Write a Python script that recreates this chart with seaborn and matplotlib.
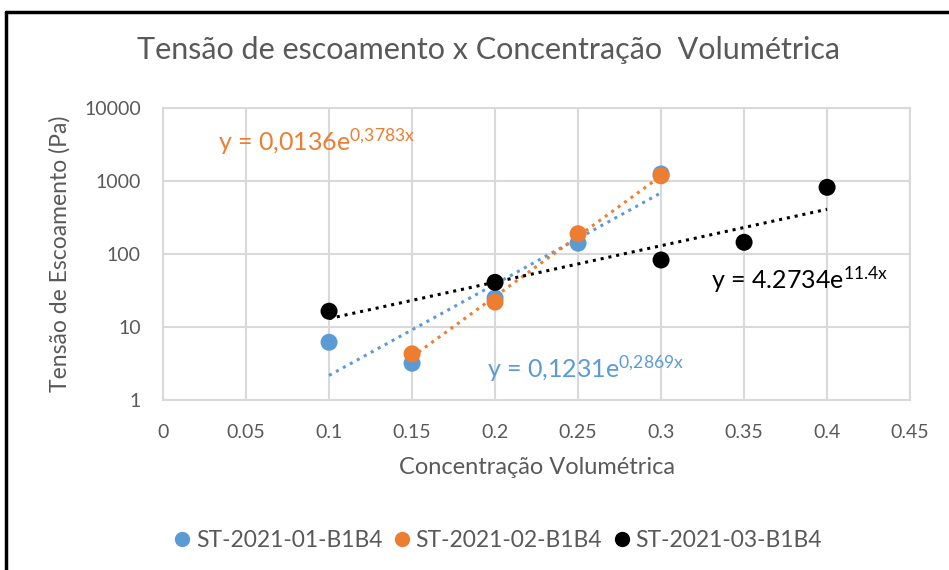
import numpy as np
import pandas as pd
import matplotlib
matplotlib.use("Agg")
import matplotlib.pyplot as plt
from matplotlib.lines import Line2D
from matplotlib.ticker import FixedLocator, FixedFormatter
import seaborn as sns

# data
series = ["ST-2021-01-B1B4", "ST-2021-02-B1B4", "ST-2021-03-B1B4"]
x_01 = [0.10, 0.15, 0.20, 0.25, 0.30]
y_01 = [6.2, 3.2, 25, 141, 1250]
x_02 = [0.15, 0.20, 0.25, 0.30]
y_02 = [4.3, 22, 190, 1180]
x_03 = [0.10, 0.20, 0.30, 0.35, 0.40]
y_03 = [16.5, 41, 83, 145, 820]
equations = ["y = 0,1231e$^{\\mathrm{0{,}2869x}}$",
             "y = 0,0136e$^{\\mathrm{0{,}3783x}}$",
             "y = 4.2734e$^{\\mathrm{11.4x}}$"]
x_ticks = [0, 0.05, 0.1, 0.15, 0.2, 0.25, 0.3, 0.35, 0.4, 0.45]
x_tick_labels = ["0", "0.05", "0.1", "0.15", "0.2", "0.25", "0.3", "0.35", "0.4", "0.45"]
y_ticks = [1, 10, 100, 1000, 10000]
y_tick_labels = ["1", "10", "100", "1000", "10000"]

colors = ["#5B9BD5", "#ED7D31", "#000000"]
grey = "#595959"

sns.set_style("white")
plt.rcParams["font.family"] = ["Lato", "DejaVu Sans"]
plt.rcParams["mathtext.fontset"] = "custom"
plt.rcParams["mathtext.rm"] = "Lato"
plt.rcParams["mathtext.it"] = "Lato"

df = pd.DataFrame({
    "x": x_01 + x_02 + x_03,
    "y": y_01 + y_02 + y_03,
    "serie": [series[0]] * len(x_01) + [series[1]] * len(x_02) + [series[2]] * len(x_03),
})

fig = plt.figure(figsize=(9.49, 5.70), dpi=100)
ax = fig.add_axes([0.1718, 0.298, 0.959 - 0.1718, 0.8105 - 0.298])
ax.set_yscale("log")

# exponential trendlines (fit in log space, like Excel)
for xs, ys, c in zip([x_01, x_02, x_03], [y_01, y_02, y_03], colors):
    b, a = np.polyfit(xs, np.log(ys), 1)
    xx = np.linspace(min(xs), max(xs), 50)
    sns.lineplot(x=xx, y=np.exp(a + b * xx), ax=ax, color=c, lw=2.2,
                 linestyle=(0, (1, 1.6)), legend=False, zorder=2)

sns.scatterplot(data=df, x="x", y="y", hue="serie", palette=colors, s=150,
                edgecolor="none", ax=ax, zorder=3, legend=False)

ax.set_xlim(0, 0.45)
ax.set_ylim(1, 10000)
ax.xaxis.set_major_locator(FixedLocator(x_ticks))
ax.xaxis.set_major_formatter(FixedFormatter(x_tick_labels))
ax.yaxis.set_major_locator(FixedLocator(y_ticks))
ax.yaxis.set_major_formatter(FixedFormatter(y_tick_labels))
ax.yaxis.set_minor_locator(FixedLocator([]))
ax.grid(True, color="#d9d9d9", lw=1.5)
ax.set_axisbelow(True)
for sp in ax.spines.values():
    sp.set_color("#d9d9d9")
    sp.set_linewidth(1.5)
ax.tick_params(axis="both", length=0, labelsize=14, labelcolor=grey)
ax.tick_params(axis="x", pad=17)
ax.tick_params(axis="y", pad=16)

ax.set_xlabel("Concentração Volumétrica", fontsize=17, color=grey, labelpad=12)
ax.set_ylabel("Tensão de Escoamento (Pa)", fontsize=16.5, color=grey, labelpad=10)

fig.text(0.515, 0.912, "Tensão de escoamento x Concentração  Volumétrica",
         ha="center", va="center", fontsize=22, color=grey)

# trendline equations
ax.text(0.033, 3400, equations[1], color=colors[1], fontsize=18, va="center")
ax.text(0.195, 2.7, equations[0], color=colors[0], fontsize=18, va="center")
ax.text(0.330, 45, equations[2], color=colors[2], fontsize=18, va="center")

handles = [Line2D([], [], marker="o", ls="none", color=c, markersize=10) for c in colors]
fig.legend(handles, series, loc="center", bbox_to_anchor=(0.523, 0.052), ncol=3,
           frameon=False, fontsize=16.5, labelcolor=grey, handlelength=1.0,
           handletextpad=0.1, columnspacing=0.35)

# frame lines at top and left, as in the screenshot
fig.add_artist(Line2D([0.006, 1.0], [0.979, 0.979], color="black", lw=2.5,
                      transform=fig.transFigure))
fig.add_artist(Line2D([0.0065, 0.0065], [0.0, 0.979], color="black", lw=2.5,
                      transform=fig.transFigure))

fig.savefig("out.png", dpi=100)
